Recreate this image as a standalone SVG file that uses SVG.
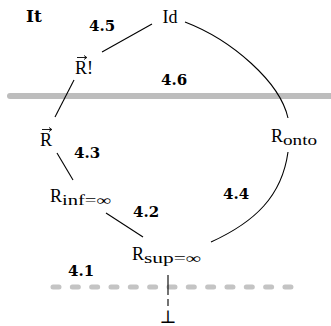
<svg xmlns="http://www.w3.org/2000/svg" width="331" height="326" viewBox="0 0 331 326">
<style>
text{font-family:"Liberation Serif","DejaVu Serif",serif;fill:#000}
.n{font-size:18px}
.b{font-family:"DejaVu Serif","Liberation Serif",serif;font-size:15px;font-weight:bold}
.s{font-size:14px}
.c{fill:none;stroke:#000;stroke-width:1.1}
.acc{fill:none;stroke:#000;stroke-width:0.9}
</style>
<rect width="331" height="326" fill="#fff"/>
<g id="bands">
<line x1="10" y1="96" x2="334" y2="96" stroke="#bdbdbd" stroke-width="6" stroke-linecap="round"/>
<line x1="53" y1="287" x2="291" y2="287" stroke="#c4c4c4" stroke-width="5" stroke-linecap="round" stroke-dasharray="6 13.33"/>
</g>
<g id="connectors">
<line class="c" x1="152" y1="24" x2="102" y2="52"/>
<line class="c" x1="74" y1="80" x2="55" y2="117"/>
<line class="c" x1="57" y1="153" x2="73" y2="180"/>
<line class="c" x1="106" y1="213" x2="143" y2="237"/>
<path class="c" d="M185,22 C232,40 280,82 288,118"/>
<path class="c" d="M288,152 C282,196 255,222 211,242"/>
<line class="c" x1="168" y1="275" x2="168" y2="306" stroke-dasharray="20 4"/>
</g>
<g id="labels">
<text class="b" x="26" y="22" style="font-size:17px">It</text>
<text class="b" x="89" y="31">4.5</text>
<text class="b" x="161" y="85">4.6</text>
<text class="b" x="74" y="158">4.3</text>
<text class="b" x="133" y="217">4.2</text>
<text class="b" x="223" y="199">4.4</text>
<text class="b" x="68" y="276">4.1</text>
</g>
<g id="node-Id"><text class="n" x="170" y="23" text-anchor="middle">Id</text></g>
<g id="node-Rbang">
<path class="acc" d="M77,57.5 H86.5 M84,55.5 L86.8,57.5 L84,59.5"/>
<text class="n" x="75" y="74">R!</text>
</g>
<g id="node-Rvec">
<path class="acc" d="M42,129.5 H51.5 M49,127.5 L51.8,129.5 L49,131.5"/>
<text class="n" x="40" y="146">R</text>
</g>
<g id="node-Rinf"><text class="n" x="50" y="202">R<tspan class="s" dy="3" textLength="49" lengthAdjust="spacingAndGlyphs">inf=∞</tspan></text></g>
<g id="node-Rsup"><text class="n" x="132" y="260">R<tspan class="s" dy="3" textLength="57" lengthAdjust="spacingAndGlyphs">sup=∞</tspan></text></g>
<g id="node-Ronto"><text class="n" x="271" y="142">R<tspan class="s" dy="3" textLength="34" lengthAdjust="spacingAndGlyphs">onto</tspan></text></g>
<g id="node-bot"><text class="n" x="168" y="323" text-anchor="middle">⊥</text></g>
</svg>
